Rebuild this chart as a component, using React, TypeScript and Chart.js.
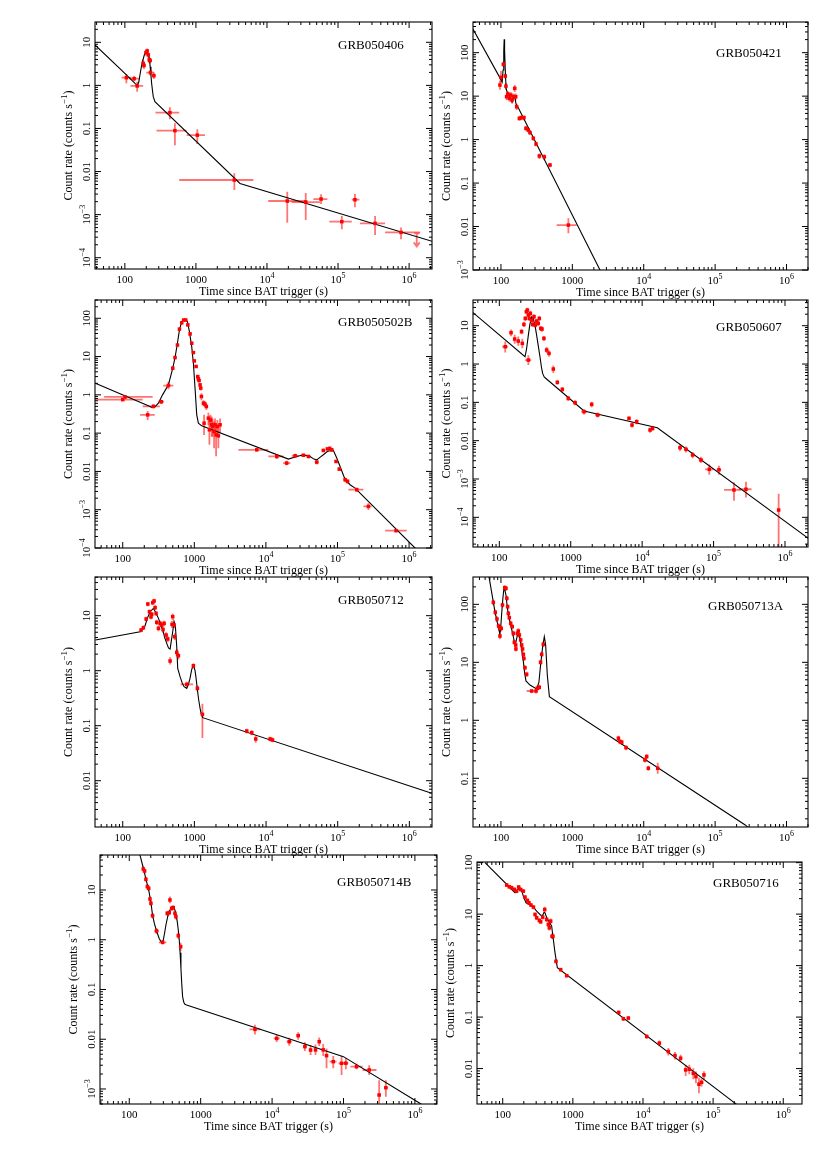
import React, { useEffect, useRef } from 'react';
import { Chart, registerables } from 'chart.js';

Chart.register(...registerables);

// Each point: [time, rate, timeLo, timeHi, rateLo, rateHi]
const grb050406Points = [
  [105, 1.51, 90, 124, 1.12, 1.84], [135, 1.43, 115, 163, 1.24, 1.65], [149, 0.97, 120, 181, 0.71, 1.22],
  [181, 3.25, 176, 187, 2.6, 4.0], [186, 2.9, 180, 192, 2.4, 3.5], [198, 5.75, 193, 203, 4.9, 6.6],
  [206, 6.3, 201, 211, 5.4, 7.2], [214, 5.1, 209, 219, 4.4, 5.9], [220, 3.9, 215, 225, 3.3, 4.5],
  [227, 3.8, 222, 232, 3.2, 4.4], [229, 1.98, 200, 258, 1.7, 2.3], [256, 1.68, 240, 270, 1.4, 2.0],
  [430, 0.233, 270, 582, 0.163, 0.31], [506, 0.089, 279, 740, 0.041, 0.132], [1045, 0.07, 740, 1340, 0.0435, 0.0955],
  [3470, 0.00636, 582, 6430, 0.00372, 0.00908], [19300, 0.00207, 10400, 36200, 6.5e-4, 0.00341],
  [35100, 0.00196, 22200, 55700, 7.5e-4, 0.00318], [57700, 0.0023, 45000, 70800, 0.00176, 0.00296],
  [113000, 6.86e-4, 75500, 156000, 4.55e-4, 9.3e-4], [173000, 0.00222, 156000, 200000, 0.00148, 0.003],
  [332000, 6.27e-4, 204000, 459000, 3.36e-4, 9.3e-4], [770000, 3.87e-4, 459000, 1430000, 2.67e-4, 5.06e-4],
];
// Upper limits: [time, rate, timeLo, timeHi]
const grb050406Limits = [[1280000, 3.67e-4, 1180000, 1400000]];
const grb050406Model = [
  [38, 8.7], [100, 1.91], [140, 1.1], [150, 1.0], [157, 1.2], [163, 1.74], [170, 2.6], [177, 3.56], [189, 5.26],
  [202, 6.07], [215, 5.26], [222, 4.0], [227, 2.72], [233, 1.7], [238, 1.12], [245, 0.75], [251, 0.547], [265, 0.42],
  [4170, 0.0053], [2100000, 2.4e-4],
];

const grb050421Points = [
  [96.8, 18, 94, 100, 14, 23], [100, 27, 97, 103, 20, 38], [108, 54, 106, 110, 46, 62], [115, 29, 113, 117, 25, 33],
  [117.5, 17, 115, 120, 14, 20], [120, 9.7, 117, 123, 8, 11.5], [125, 11.2, 122, 128, 9.5, 13], [131, 8.9, 128, 134, 7.5, 10.5],
  [137, 10.6, 134, 140, 9, 12.5], [143, 8.1, 140, 146, 6.8, 9.5], [149, 9.7, 146, 152, 8.2, 11.5], [156, 15.1, 153, 159, 12.5, 18],
  [161, 9.7, 158, 164, 8, 11.5], [166, 5.7, 163, 170, 4.8, 6.7], [181, 3.08, 175, 187, 2.7, 3.5], [193, 3.2, 187, 199, 2.8, 3.6],
  [210, 3.2, 203, 217, 2.8, 3.6], [224, 1.82, 217, 232, 1.6, 2.05], [241, 1.66, 232, 250, 1.45, 1.9], [255, 1.45, 247, 263, 1.28, 1.65],
  [284, 1.07, 274, 294, 0.94, 1.2], [310, 0.79, 300, 320, 0.7, 0.89], [345, 0.42, 330, 362, 0.36, 0.48], [405, 0.4, 385, 425, 0.34, 0.46],
  [486, 0.26, 460, 512, 0.23, 0.29], [880, 0.0108, 603, 1150, 0.007, 0.0155],
];
const grb050421Model = [
  [40, 363], [100, 24], [104, 21], [107, 40], [109.5, 110], [111, 203], [112.5, 110], [115, 40], [118, 15], [122, 12.5],
  [130, 10.5], [138, 8.5], [143, 7.4], [148, 8.8], [153, 10.2], [158, 8.5], [163, 6.5], [170, 5.9], [2440, 1.0e-3], [3500, 3.1e-4],
];

const grb050502bPoints = [
  [100, 0.75, 40, 190, 0.68, 0.83], [108, 0.88, 55, 262, 0.78, 0.98], [223, 0.30, 175, 280, 0.22, 0.38],
  [268, 0.5, 190, 330, 0.44, 0.57], [345, 0.66, 318, 378, 0.58, 0.75], [435, 1.75, 370, 510, 1.4, 2.2],
  [500, 4.97, 490, 510, 4.6, 5.4], [538, 9.4, 528, 548, 8.8, 10], [581, 20, 571, 591, 19, 21], [620, 52, 610, 630, 50, 54],
  [667, 76, 657, 677, 73, 79], [711, 90, 701, 721, 87, 93], [759, 90, 749, 769, 87, 93], [812, 67, 802, 822, 64, 70],
  [873, 39, 863, 883, 37, 41], [921, 22.3, 911, 931, 21, 23.5], [971, 12.7, 961, 981, 12, 13.4], [1000, 7.7, 990, 1010, 7.2, 8.2],
  [1059, 5.5, 1049, 1069, 5.1, 5.9], [1117, 3.0, 1107, 1127, 2.7, 3.3], [1140, 2.6, 1130, 1150, 2.3, 2.9],
  [1165, 2.37, 1155, 1175, 2.1, 2.65], [1203, 1.82, 1190, 1215, 1.6, 2.05], [1230, 1.5, 1218, 1242, 1.3, 1.7],
  [1257, 0.906, 1240, 1275, 0.72, 1.1], [1341, 0.607, 1320, 1360, 0.5, 0.72], [1369, 0.182, 1350, 1390, 0.09, 0.3],
  [1400, 0.58, 1380, 1420, 0.48, 0.68], [1473, 0.497, 1450, 1495, 0.4, 0.6], [1573, 0.246, 1550, 1595, 0.16, 0.34],
  [1625, 0.122, 1600, 1650, 0.05, 0.25], [1680, 0.22, 1655, 1705, 0.14, 0.3], [1750, 0.165, 1725, 1775, 0.08, 0.27],
  [1800, 0.15, 1775, 1825, 0.08, 0.24], [1888, 0.11, 1860, 1915, 0.04, 0.2], [1950, 0.165, 1920, 1980, 0.1, 0.24],
  [2014, 0.09, 1985, 2045, 0.025, 0.17], [2100, 0.15, 2070, 2130, 0.09, 0.22], [2167, 0.085, 2135, 2200, 0.04, 0.14],
  [2290, 0.165, 2255, 2325, 0.1, 0.24],
  [7450, 0.0367, 4130, 10800, 0.033, 0.041], [14200, 0.0246, 10800, 17700, 0.021, 0.028], [19500, 0.0165, 17400, 22000, 0.0145, 0.019],
  [25600, 0.0256, 23000, 28500, 0.023, 0.029], [33400, 0.0264, 30500, 36500, 0.024, 0.029], [39300, 0.0246, 37000, 42000, 0.022, 0.027],
  [51300, 0.0175, 48000, 54500, 0.0152, 0.02], [63500, 0.0353, 60000, 67000, 0.032, 0.039], [72300, 0.0388, 69000, 76000, 0.035, 0.042],
  [78000, 0.04, 75000, 81000, 0.036, 0.044], [83200, 0.0367, 80000, 87000, 0.033, 0.04], [95500, 0.0182, 91000, 100000, 0.0165, 0.02],
  [106000, 0.0115, 101000, 111000, 0.0103, 0.0128], [128000, 0.00607, 121000, 135000, 0.0053, 0.0069],
  [138000, 0.0055, 133000, 143000, 0.0048, 0.0062], [186000, 0.00333, 142000, 230000, 0.0029, 0.0038],
  [270000, 0.00122, 230000, 300000, 0.00098, 0.00148], [658000, 2.83e-4, 462000, 927000, 2.6e-4, 3.1e-4],
];
const grb050502bModel = [
  [41.5, 2.01], [241, 0.497], [254, 0.468], [280, 0.48], [315, 0.607], [360, 1.0], [435, 1.82], [500, 4.97], [538, 9.4],
  [581, 22.3], [620, 49.6], [667, 81.9], [705, 90], [743, 94], [801, 81.9], [854, 44.9], [920, 18.2], [971, 6.7], [1024, 1.49],
  [1081, 0.3], [1140, 0.182], [1270, 0.155], [20600, 0.021], [27000, 0.0246], [33400, 0.0272], [41400, 0.0246], [47000, 0.021],
  [51300, 0.0201], [58000, 0.024], [63500, 0.0272], [72000, 0.033], [78700, 0.0346], [87700, 0.035], [97700, 0.0223],
  [108700, 0.0135], [128000, 0.0061], [150000, 0.00449], [176000, 0.00367], [1210000, 1e-4], [2000000, 3.9e-5],
];

const grb050607Points = [
  [121, 2.83, 110, 132, 2.0, 3.9], [146, 6.57, 140, 152, 5.3, 8.0], [164, 4.49, 158, 170, 3.4, 5.8], [184, 3.98, 176, 192, 3.0, 5.2],
  [210, 3.46, 202, 218, 2.6, 4.6], [255, 1.27, 230, 280, 0.95, 1.7], [205, 7, 201, 209, 6, 8.2], [221, 10.8, 217, 225, 9.2, 12.6],
  [231, 15.5, 227, 235, 13.3, 18], [239, 23.2, 235, 243, 20, 27], [247, 25.6, 243, 251, 22, 29.5], [255, 19, 251, 259, 16.3, 22],
  [263, 15.5, 259, 267, 13.3, 18], [272, 21, 268, 276, 18, 24.5], [284, 14, 280, 288, 12, 16.3], [293, 10.8, 289, 297, 9.2, 12.6],
  [306, 17.2, 302, 310, 14.8, 20], [319, 10.4, 315, 323, 8.9, 12.1], [333, 13.2, 328, 338, 11.3, 15.3], [351, 11.5, 346, 356, 9.8, 13.4],
  [363, 15.5, 358, 368, 13.3, 18], [380, 8.5, 375, 385, 7.3, 9.9], [396, 8.2, 390, 402, 7.0, 9.5], [421, 4.68, 414, 428, 4.0, 5.4],
  [460, 2.32, 452, 468, 1.9, 2.8], [496, 1.9, 487, 505, 1.55, 2.3], [570, 0.74, 555, 585, 0.58, 0.92], [649, 0.333, 630, 668, 0.29, 0.38],
  [762, 0.218, 740, 785, 0.19, 0.25], [925, 0.127, 880, 970, 0.108, 0.148], [1150, 0.098, 1080, 1220, 0.084, 0.113],
  [1535, 0.0571, 1400, 1690, 0.048, 0.066], [1965, 0.0887, 1880, 2050, 0.075, 0.103], [2380, 0.0468, 2200, 2560, 0.04, 0.054],
  [6540, 0.0383, 6300, 6800, 0.034, 0.043], [7210, 0.0256, 6950, 7480, 0.022, 0.03], [8380, 0.0313, 8050, 8700, 0.027, 0.036],
  [12900, 0.019, 12400, 13400, 0.016, 0.022], [14000, 0.021, 13400, 14600, 0.018, 0.024], [33900, 0.00656, 32000, 36000, 0.0054, 0.008],
  [41100, 0.00594, 39000, 43300, 0.0049, 0.0071], [50900, 0.00423, 48000, 54000, 0.0035, 0.0051], [66600, 0.00313, 62000, 71500, 0.0026, 0.0038],
  [87100, 0.00179, 76000, 100000, 0.0013, 0.0024], [119000, 0.00174, 110000, 128000, 0.0013, 0.0022],
  [193000, 5.17e-4, 140000, 240000, 2.7e-4, 8.2e-4], [284000, 5.4e-4, 225000, 340000, 3.3e-4, 8.5e-4],
  [815000, 1.55e-4, 790000, 840000, 1.7e-5, 4.1e-4],
];
const grb050607Model = [
  [42.4, 22.3], [229, 1.55], [240, 2.4], [255, 5.7], [268, 11], [284, 17], [300, 15], [318, 9.5], [333, 5.7], [352, 2.9],
  [371, 1.55], [388, 0.85], [404, 0.57], [425, 0.46], [450, 0.42], [1535, 0.0594], [16300, 0.0218], [2120000, 2.83e-5],
];

const grb050712Points = [
  [180, 5.48, 175, 185, 5.0, 6.0], [194, 6.05, 188, 200, 5.5, 6.6], [212, 8.7, 206, 218, 7.9, 9.6], [224, 16.3, 218, 230, 14.8, 17.8],
  [236, 11.8, 230, 242, 10.7, 13], [248, 9.5, 242, 254, 8.6, 10.5], [254, 10.6, 248, 260, 9.6, 11.7], [262, 17.2, 256, 268, 15.6, 19],
  [274, 18.5, 268, 280, 16.8, 20.3], [283, 14, 277, 289, 12.7, 15.4], [292, 11, 286, 298, 10, 12.1], [298, 7.57, 292, 304, 6.8, 8.4],
  [315, 5.89, 308, 322, 5.2, 6.6], [332, 7.26, 325, 339, 6.4, 8.1], [350, 6.76, 343, 357, 6.0, 7.6], [365, 5.6, 358, 372, 4.9, 6.3],
  [378, 7.26, 370, 386, 6.4, 8.1], [403, 4.45, 395, 411, 3.9, 5.0], [425, 3.77, 417, 433, 3.3, 4.3], [458, 1.5, 450, 466, 1.3, 1.75],
  [487, 6.95, 480, 494, 6.0, 8.0], [498, 9.6, 491, 505, 8.3, 11], [520, 6.8, 512, 528, 5.9, 7.8], [532, 4.15, 524, 540, 3.6, 4.8],
  [567, 2.15, 555, 580, 1.85, 2.45], [598, 1.87, 585, 612, 1.6, 2.15], [782, 0.565, 640, 960, 0.5, 0.63], [968, 1.23, 940, 1000, 1.1, 1.37],
  [1101, 0.478, 1060, 1140, 0.42, 0.54], [1294, 0.161, 1250, 1340, 0.06, 0.25], [5370, 0.08, 5100, 5650, 0.072, 0.088],
  [6310, 0.0746, 6000, 6650, 0.067, 0.083], [7180, 0.0573, 6900, 7450, 0.049, 0.066], [11400, 0.0573, 10800, 12000, 0.052, 0.063],
  [12300, 0.055, 11700, 12900, 0.05, 0.061],
];
const grb050712Model = [
  [41.6, 3.61], [175, 5.11], [190, 5.7], [205, 6.58], [222, 9.2], [241, 11.8], [268, 13.6], [290, 11.3], [315, 8.94], [340, 6.8],
  [362, 5.48], [385, 4.0], [411, 3.14], [435, 2.6], [458, 2.48], [478, 3.6], [498, 5.1], [520, 7.8], [543, 6.3], [567, 2.73],
  [585, 1.1], [631, 0.78], [675, 0.6], [718, 0.512], [782, 0.478], [830, 0.58], [870, 0.73], [910, 1.0], [949, 1.22], [985, 1.2],
  [1021, 1.0], [1060, 0.7], [1101, 0.445], [1150, 0.29], [1200, 0.206], [1250, 0.16], [1307, 0.14], [2050000, 0.00589],
];

const grb050713aPoints = [
  [78.2, 108, 76, 80.5, 96, 120], [83.3, 72.8, 81, 85.5, 65, 81], [87.9, 55.9, 85.5, 90.5, 50, 62], [92.7, 42.3, 90, 95.5, 37.5, 47],
  [96.8, 38.5, 94, 99.5, 34, 43], [96.8, 28.4, 94, 99.5, 25, 32], [101, 38.5, 98, 104, 34, 43], [105, 97.5, 102, 108, 88, 107],
  [113, 194, 110, 116, 175, 213], [117.5, 189, 114.5, 120.5, 170, 208], [121, 127, 118, 124, 114, 140], [124, 91, 121, 127, 82, 100],
  [127, 70, 124, 130, 63, 77], [131, 58.9, 128, 134, 53, 65], [137, 47, 134, 140, 42, 52], [144, 41.2, 141, 147, 37, 45.5],
  [149, 31.6, 146, 152, 28.5, 35], [154, 22.1, 151, 157, 20, 24.5], [161, 19.9, 158, 164, 18, 22], [162, 17, 159, 165, 15.3, 18.8],
  [170, 31.6, 167, 173, 28.5, 35], [175, 34.7, 172, 178, 31, 38.5], [181, 29.6, 178, 184, 26.6, 32.8], [189, 24.3, 186, 192, 21.9, 26.9],
  [195, 19.9, 192, 198, 18, 22], [201, 17, 198, 204, 15.3, 18.8], [206, 13.7, 203, 209, 12.3, 15.2], [210, 11.7, 207, 213, 10.5, 13],
  [217, 8.08, 213, 221, 7.3, 8.9], [229, 6.21, 224, 234, 5.6, 6.9], [269, 3.2, 229, 310, 3.0, 3.4], [310, 3.2, 300, 320, 2.9, 3.5],
  [323, 3.57, 313, 333, 3.2, 3.95], [344, 3.71, 334, 354, 3.35, 4.1], [359, 10, 352, 366, 9, 11], [372, 13.7, 365, 379, 12.3, 15.2],
  [392, 20.4, 384, 400, 18.4, 22.6], [4420, 0.49, 4250, 4600, 0.44, 0.54], [4660, 0.428, 4480, 4850, 0.385, 0.47],
  [4920, 0.42, 4730, 5120, 0.38, 0.46], [5650, 0.338, 5430, 5880, 0.305, 0.372], [10400, 0.207, 10000, 10800, 0.187, 0.228],
  [11000, 0.237, 10600, 11400, 0.214, 0.26], [11600, 0.149, 11200, 12000, 0.135, 0.164], [15700, 0.149, 15200, 16200, 0.12, 0.185],
];
const grb050713aModel = [
  [68, 300], [82.4, 74.8], [93.7, 36], [96.5, 31], [99, 38], [102, 65], [106, 120], [110, 189], [113, 180], [117.5, 145], [122, 95],
  [127, 65], [137, 44], [149, 27.7], [157, 19.9], [163, 23], [170, 29.6], [177, 30], [184, 26], [191, 20], [206, 10.3], [215, 6.5],
  [224, 4.77], [255, 4.06], [316, 3.47], [340, 4.5], [359, 9.0], [384, 18.6], [405, 27.7], [423, 19.9], [446, 6.05], [477, 2.56],
  [264000, 0.0157], [300000, 0.0137],
];

const grb050714bPoints = [
  [157, 26.4, 153, 161, 23.5, 29.5], [164, 24.1, 160, 168, 21.5, 27], [171, 16.4, 167, 175, 14.6, 18.4], [179, 11.7, 175, 183, 10.4, 13.1],
  [187, 10.8, 183, 191, 9.6, 12.1], [195, 6.59, 191, 199, 5.9, 7.4], [201, 5.4, 197, 205, 4.8, 6.0], [212, 3.05, 207, 217, 2.7, 3.4],
  [241, 1.5, 225, 258, 1.3, 1.7], [293, 0.887, 260, 330, 0.8, 0.98], [340, 3.4, 330, 350, 3.0, 3.8], [363, 3.5, 353, 373, 3.1, 3.9],
  [371, 6.3, 363, 379, 5.4, 7.4], [392, 4.28, 383, 401, 3.8, 4.8], [413, 4.4, 404, 422, 3.9, 5.0], [436, 3.4, 427, 445, 3.0, 3.8],
  [450, 2.91, 441, 459, 2.55, 3.3], [486, 1.21, 476, 496, 1.05, 1.4], [524, 0.726, 512, 536, 0.6, 0.87],
  [5760, 0.0158, 4830, 6900, 0.0125, 0.0195], [11600, 0.0104, 10500, 12800, 0.0088, 0.0122], [17400, 0.00893, 16000, 19000, 0.0074, 0.0107],
  [23200, 0.0118, 22000, 24500, 0.0098, 0.0138], [28800, 0.0071, 27000, 30700, 0.0058, 0.0087], [34600, 0.00608, 33000, 36300, 0.0048, 0.0076],
  [40600, 0.0061, 38800, 42500, 0.0048, 0.0078], [45700, 0.00893, 44000, 47500, 0.0073, 0.0108], [52000, 0.0061, 49800, 54500, 0.0046, 0.008],
  [57900, 0.00468, 55000, 61000, 0.0026, 0.0065], [71900, 0.00354, 64000, 80000, 0.0026, 0.0046], [94000, 0.00328, 85000, 103000, 0.0019, 0.0046],
  [108000, 0.0033, 100000, 117000, 0.0025, 0.0042], [152000, 0.00281, 125000, 185000, 0.0025, 0.0032],
  [229000, 0.00241, 185000, 290000, 0.0019, 0.003], [316000, 7.57e-4, 300000, 333000, 5.1e-4, 0.0015],
  [392000, 0.00106, 370000, 415000, 7e-4, 0.0015],
];
const grb050714bModel = [
  [141, 50.6], [157, 28], [171, 16.5], [187, 10], [201, 5.6], [212, 3.1], [225, 2.1], [241, 1.5], [263, 1.05], [284, 0.88],
  [299, 0.97], [312, 1.35], [326, 1.98], [345, 2.9], [363, 3.66], [382, 4.3], [400, 4.62], [418, 4.4], [436, 3.96], [452, 3.2],
  [470, 2.31], [486, 1.55], [501, 0.99], [515, 0.55], [529, 0.266], [543, 0.13], [558, 0.0718], [580, 0.055], [602, 0.0503],
  [635, 0.0488], [100000, 0.00447], [1170000, 5.15e-4], [2000000, 3.2e-4],
];

const grb050716Points = [
  [114, 36.7, 111, 117, 33.5, 40], [124, 34, 121, 127, 31, 37], [134, 32.6, 131, 137, 29.8, 35.6], [147, 30.3, 144, 150, 27.7, 33],
  [158, 28, 155, 161, 25.6, 30.6], [169, 33.6, 166, 172, 30.7, 36.7], [181, 30, 178, 184, 27.4, 32.8], [197, 28, 194, 200, 25.6, 30.6],
  [208, 21.4, 205, 211, 19.5, 23.4], [225, 18.5, 221, 229, 16.9, 20.2], [237, 16.6, 233, 241, 15.2, 18.1], [253, 15, 249, 257, 13.7, 16.4],
  [274, 13.7, 270, 278, 12.5, 15], [289, 9.86, 285, 293, 9.0, 10.8], [305, 8.5, 301, 309, 7.7, 9.3], [333, 7.54, 328, 338, 6.8, 8.3],
  [348, 7.1, 343, 353, 6.4, 7.8], [372, 8.74, 366, 378, 7.9, 9.6], [397, 12.3, 391, 403, 10.8, 13.9], [424, 7.87, 418, 430, 7.0, 8.8],
  [447, 6.3, 440, 454, 5.6, 7.0], [462, 5.42, 455, 469, 4.8, 6.1], [483, 7.31, 476, 490, 6.5, 8.2], [505, 3.72, 497, 513, 3.3, 4.2],
  [520, 3.7, 512, 528, 3.3, 4.2], [575, 1.21, 565, 585, 1.1, 1.33], [671, 0.836, 650, 692, 0.77, 0.9], [817, 0.638, 790, 845, 0.59, 0.69],
  [4500, 0.123, 4250, 4750, 0.112, 0.135], [5250, 0.0929, 5000, 5500, 0.084, 0.102], [6180, 0.0957, 5900, 6450, 0.087, 0.105],
  [11300, 0.042, 10800, 11800, 0.038, 0.046], [17100, 0.0312, 16300, 17900, 0.028, 0.035], [23000, 0.0214, 22000, 24000, 0.018, 0.025],
  [28600, 0.0179, 27400, 29800, 0.015, 0.021], [34400, 0.0159, 33000, 35800, 0.0135, 0.0185], [40600, 0.00942, 39000, 42200, 0.0072, 0.0118],
  [45700, 0.0097, 44000, 47400, 0.0078, 0.0118], [52100, 0.0081, 50000, 54200, 0.0062, 0.0102], [56900, 0.00698, 55000, 59000, 0.0052, 0.0088],
  [62800, 0.00496, 60500, 65000, 0.0033, 0.0066], [68500, 0.00542, 66000, 71000, 0.0045, 0.0064], [74000, 0.00753, 71500, 76500, 0.0062, 0.0089],
];
const grb050716Model = [
  [56, 100], [150, 26.1], [160, 27.5], [173, 33.6], [187, 28], [200, 21], [215, 16.6], [240, 15.3], [274, 13.7], [305, 11.5],
  [348, 9.57], [372, 9.5], [388, 10.8], [401, 10.6], [424, 8.5], [499, 5.84], [516, 4.02], [557, 1.77], [601, 0.914],
  [216000, 0.00202], [240000, 0.0018],
];

// Axis ticks and labels
const xTickValues = [100, 1000, 1e4, 1e5, 1e6];
const xTickLabels = ['100', '1000', '10^4', '10^5', '10^6'];
const yTickValues = [1e-4, 1e-3, 0.01, 0.1, 1, 10, 100];
const yTickLabels = ['10^\u22124', '10^\u22123', '0.01', '0.1', '1', '10', '100'];
const xAxisTitle = 'Time since BAT trigger (s)';
const yAxisTitle = ['Count rate (counts s', '\u22121', ')'];

const panels = [
  { name: 'GRB050406', points: grb050406Points, model: grb050406Model, limits: grb050406Limits,
    box: { l: 95, t: 22, r: 432, b: 269 }, xr: [38, 2.1e6], yr: [5.47e-5, 29.6], title: [243, 27.3] },
  { name: 'GRB050421', points: grb050421Points, model: grb050421Model, limits: [],
    box: { l: 473, t: 22, r: 808, b: 270 }, xr: [40.6, 2.0e6], yr: [1e-3, 508], title: [243, 34.7] },
  { name: 'GRB050502B', points: grb050502bPoints, model: grb050502bModel, limits: [],
    box: { l: 95, t: 300, r: 432, b: 548 }, xr: [41, 2.09e6], yr: [1e-4, 300], title: [243, 25.7] },
  { name: 'GRB050607', points: grb050607Points, model: grb050607Model, limits: [],
    box: { l: 473, t: 300, r: 808, b: 547 }, xr: [42.8, 2.1e6], yr: [1.68e-5, 46.9], title: [243, 31] },
  { name: 'GRB050712', points: grb050712Points, model: grb050712Model, limits: [],
    box: { l: 95, t: 577, r: 432, b: 827 }, xr: [41, 2.07e6], yr: [1.44e-3, 50.5], title: [243, 27.3] },
  { name: 'GRB050713A', points: grb050713aPoints, model: grb050713aModel, limits: [],
    box: { l: 473, t: 577, r: 808, b: 827 }, xr: [40.6, 2.0e6], yr: [0.01446, 296], title: [235, 33] },
  { name: 'GRB050714B', points: grb050714bPoints, model: grb050714bModel, limits: [],
    box: { l: 100, t: 855, r: 437, b: 1104 }, xr: [38.9, 2.04e6], yr: [4.99e-4, 50.5], title: [237, 30.7] },
  { name: 'GRB050716', points: grb050716Points, model: grb050716Model, limits: [],
    box: { l: 477, t: 862, r: 802, b: 1104 }, xr: [43, 1.85e6], yr: [2.05e-3, 103], title: [236, 25] },
];

const FONT = '"Liberation Serif", "DejaVu Serif", serif';
const PAD = { left: 50, top: 12, right: 10, bottom: 36 };
const MAJOR = 6;
const MINOR = 3;

type Part = { t: string; sup: boolean };

function labelParts(s: string): Part[] {
  const i = s.indexOf('^');
  if (i < 0) return [{ t: s, sup: false }];
  return [{ t: s.slice(0, i), sup: false }, { t: s.slice(i + 1), sup: true }];
}

function drawParts(ctx: CanvasRenderingContext2D, parts: Part[], x: number, y: number, size: number, align: string) {
  const supSize = Math.round(size * 0.72);
  const widths: number[] = [];
  let total = 0;
  for (const p of parts) {
    ctx.font = `${p.sup ? supSize : size}px ${FONT}`;
    const w = ctx.measureText(p.t).width;
    widths.push(w);
    total += w;
  }
  let cx = align === 'center' ? x - total / 2 : x;
  ctx.textAlign = 'left';
  ctx.textBaseline = 'alphabetic';
  parts.forEach((p, i) => {
    ctx.font = `${p.sup ? supSize : size}px ${FONT}`;
    ctx.fillText(p.t, cx, p.sup ? y - size * 0.45 : y);
    cx += widths[i];
  });
}

function makePlugin(p: any) {
  return {
    id: 'grbDecor',
    beforeDatasetsDraw(chart: any) {
      const { ctx, chartArea: a } = chart;
      const xs = chart.scales.x;
      const ys = chart.scales.y;
      ctx.save();
      ctx.beginPath();
      ctx.rect(a.left, a.top, a.right - a.left, a.bottom - a.top);
      ctx.clip();
      ctx.strokeStyle = 'rgba(255,0,0,0.55)';
      ctx.lineWidth = 1.8;
      for (const pt of p.points) {
        const px = xs.getPixelForValue(pt[0]);
        const py = ys.getPixelForValue(pt[1]);
        ctx.beginPath();
        ctx.moveTo(xs.getPixelForValue(pt[2]), py);
        ctx.lineTo(xs.getPixelForValue(pt[3]), py);
        ctx.moveTo(px, ys.getPixelForValue(pt[4]));
        ctx.lineTo(px, ys.getPixelForValue(pt[5]));
        ctx.stroke();
      }
      for (const lim of p.limits) {
        const px = xs.getPixelForValue(lim[0]);
        const py = ys.getPixelForValue(lim[1]);
        ctx.beginPath();
        ctx.moveTo(xs.getPixelForValue(lim[2]), py);
        ctx.lineTo(xs.getPixelForValue(lim[3]), py);
        ctx.moveTo(px, py);
        ctx.lineTo(px, py + 13);
        ctx.moveTo(px - 3, py + 9);
        ctx.lineTo(px, py + 13);
        ctx.lineTo(px + 3, py + 9);
        ctx.stroke();
      }
      ctx.restore();
    },
    afterDraw(chart: any) {
      const { ctx, chartArea: a } = chart;
      const xs = chart.scales.x;
      const ys = chart.scales.y;
      ctx.save();
      ctx.strokeStyle = '#000';
      ctx.fillStyle = '#000';
      ctx.lineWidth = 1.1;
      ctx.strokeRect(a.left, a.top, a.right - a.left, a.bottom - a.top);
      ctx.beginPath();
      const [xmin, xmax] = p.xr;
      const [ymin, ymax] = p.yr;
      for (let d = Math.floor(Math.log10(xmin)); d <= Math.ceil(Math.log10(xmax)); d++) {
        for (let m = 1; m < 10; m++) {
          const v = m * Math.pow(10, d);
          if (v < xmin || v > xmax) continue;
          const px = xs.getPixelForValue(v);
          const L = m === 1 ? MAJOR : MINOR;
          ctx.moveTo(px, a.bottom); ctx.lineTo(px, a.bottom - L);
          ctx.moveTo(px, a.top); ctx.lineTo(px, a.top + L);
        }
      }
      for (let d = Math.floor(Math.log10(ymin)); d <= Math.ceil(Math.log10(ymax)); d++) {
        for (let m = 1; m < 10; m++) {
          const v = m * Math.pow(10, d);
          if (v < ymin * 0.999 || v > ymax * 1.001) continue;
          const py = ys.getPixelForValue(v);
          const L = m === 1 ? MAJOR : MINOR;
          ctx.moveTo(a.left, py); ctx.lineTo(a.left + L, py);
          ctx.moveTo(a.right, py); ctx.lineTo(a.right - L, py);
        }
      }
      ctx.lineWidth = 1;
      ctx.stroke();

      // x tick labels
      xTickValues.forEach((v, i) => {
        if (v < xmin || v > xmax) return;
        drawParts(ctx, labelParts(xTickLabels[i]), xs.getPixelForValue(v), a.bottom + 14, 11, 'center');
      });
      // y tick labels (rotated)
      yTickValues.forEach((v, i) => {
        if (v < ymin * 0.999 || v > ymax * 1.001) return;
        ctx.save();
        ctx.translate(a.left - 5, ys.getPixelForValue(v));
        ctx.rotate(-Math.PI / 2);
        drawParts(ctx, labelParts(yTickLabels[i]), 0, 0, 11, 'center');
        ctx.restore();
      });
      // axis titles
      drawParts(ctx, [{ t: xAxisTitle, sup: false }], (a.left + a.right) / 2, a.bottom + 26, 12, 'center');
      ctx.save();
      ctx.translate(a.left - 23, (a.top + a.bottom) / 2);
      ctx.rotate(-Math.PI / 2);
      drawParts(ctx, [
        { t: yAxisTitle[0], sup: false },
        { t: yAxisTitle[1], sup: true },
        { t: yAxisTitle[2], sup: false },
      ], 0, 0, 12, 'center');
      ctx.restore();
      // panel name
      drawParts(ctx, [{ t: p.name, sup: false }], a.left + p.title[0], a.top + p.title[1], 13, 'left');
      ctx.restore();
    },
  };
}

function Panel({ p }: { p: any }) {
  const ref = useRef<HTMLCanvasElement | null>(null);
  const w = p.box.r - p.box.l + PAD.left + PAD.right;
  const h = p.box.b - p.box.t + PAD.top + PAD.bottom;
  useEffect(() => {
    if (!ref.current) return;
    const chart = new Chart(ref.current, {
      type: 'scatter',
      data: {
        datasets: [
          {
            data: p.points.map((pt: number[]) => ({ x: pt[0], y: pt[1] })),
            pointStyle: 'rect',
            pointRadius: 2.5,
            backgroundColor: '#ff0000',
            borderWidth: 0,
            showLine: false,
          },
          {
            data: p.model.map((pt: number[]) => ({ x: pt[0], y: pt[1] })),
            showLine: true,
            borderColor: '#000000',
            borderWidth: 1.1,
            pointRadius: 0,
            tension: 0,
            fill: false,
          },
        ],
      } as any,
      options: {
        responsive: false,
        animation: false,
        devicePixelRatio: 1,
        events: [],
        layout: { padding: PAD },
        plugins: { legend: { display: false }, tooltip: { enabled: false } },
        scales: {
          x: { type: 'logarithmic', min: p.xr[0], max: p.xr[1], display: false },
          y: { type: 'logarithmic', min: p.yr[0], max: p.yr[1], display: false },
        },
      } as any,
      plugins: [makePlugin(p)],
    });
    return () => chart.destroy();
  }, []);
  return (
    <canvas
      ref={ref}
      width={w}
      height={h}
      style={{ position: 'absolute', left: p.box.l - PAD.left, top: p.box.t - PAD.top, width: w, height: h }}
    />
  );
}

export default function App() {
  return (
    <div style={{ position: 'absolute', left: 0, top: 0, width: 830, height: 1173, background: '#fff' }}>
      {panels.map((p) => (
        <Panel key={p.name} p={p} />
      ))}
    </div>
  );
}
